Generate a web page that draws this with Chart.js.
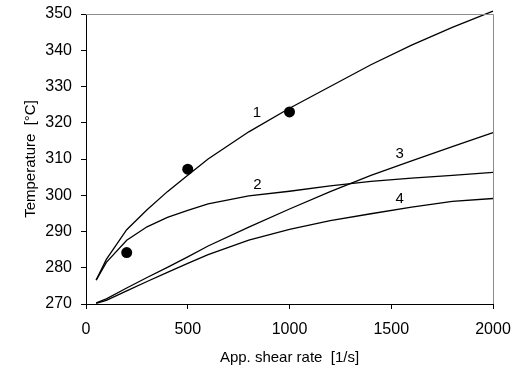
<!DOCTYPE html>
<html>
<head>
<meta charset="utf-8">
<script src="https://cdn.jsdelivr.net/npm/chart.js@4.4.0/dist/chart.umd.min.js"></script>
<style>
  html, body { margin: 0; padding: 0; background: #fff; }
  #wrap { width: 515px; height: 372px; }
</style>
</head>
<body>
<div id="wrap"><canvas id="chart" width="515" height="372"></canvas></div>
<script>
// shear rates where the curves were read
const shearRates = [50, 100, 200, 300, 400, 500, 600, 800, 1000, 1200, 1400, 1600, 1800, 2000]

const curve1 = [276.6, 282.3, 290.5, 296, 301, 305.5, 310, 317.5, 324, 330, 336, 341.4, 346.3, 350.8]
const curve2 = [276.6, 281.5, 287.6, 291.3, 293.9, 295.8, 297.6, 299.8, 301.1, 302.6, 303.8, 304.7, 305.5, 306.3]
const curve3 = [270.3, 271.4, 274.4, 277.3, 280.1, 283, 286, 291.2, 296.2, 301, 305.5, 309.5, 313.4, 317.3]
const curve4 = [270.2, 271, 273.6, 276.2, 278.7, 281.2, 283.6, 287.6, 290.6, 293, 294.9, 296.7, 298.3, 299.1]

// measured points
const measRates = [200, 500, 1000]
const measTemps = [284.2, 307.2, 323]

// curve numbers and where they sit
const curveNames = ['1', '2', '3', '4']
const nameX = [840, 842, 1541, 1541]
const nameY = [322.7, 302.8, 311.4, 298.9]

const xTicks = [0, 500, 1000, 1500, 2000]

const font = 'Liberation Sans, Arial, sans-serif'

const toPoints = (xs, ys) => xs.map((x, i) => ({ x: x, y: ys[i] }))

const lineSet = (values) => ({
  data: toPoints(shearRates, values),
  showLine: true,
  borderColor: '#000',
  borderWidth: 1.3,
  pointRadius: 0,
  tension: 0,
  fill: false,
  clip: false
})

const boxAndNames = {
  id: 'boxAndNames',
  afterDraw(chart) {
    const c = chart.ctx
    const a = chart.chartArea
    const xs = chart.scales.x
    const ys = chart.scales.y
    c.save()
    c.strokeStyle = '#8c8c8c'
    c.lineWidth = 1
    c.beginPath()
    c.moveTo(a.left, a.top + 0.5)
    c.lineTo(a.right + 0.5, a.top + 0.5)
    c.lineTo(a.right + 0.5, a.bottom)
    c.stroke()
    c.fillStyle = '#000'
    c.font = '15px ' + font
    c.textAlign = 'center'
    c.textBaseline = 'middle'
    for (let i = 0; i < curveNames.length; i++) {
      c.fillText(curveNames[i], xs.getPixelForValue(nameX[i]), ys.getPixelForValue(nameY[i]))
    }
    c.restore()
  }
}

var ctx = document.getElementById('chart').getContext('2d')

var myChart = new Chart(ctx, {
  type: 'scatter',
  data: {
    datasets: [
      lineSet(curve1),
      lineSet(curve2),
      lineSet(curve3),
      lineSet(curve4),
      {
        data: toPoints(measRates, measTemps),
        showLine: false,
        pointRadius: 5.5,
        pointBackgroundColor: '#000',
        pointBorderColor: '#000',
        pointBorderWidth: 0
      }
    ]
  },
  options: {
    responsive: false,
    animation: false,
    layout: { padding: { top: 14, right: 22, left: 0, bottom: 0 } },
    plugins: {
      legend: { display: false },
      tooltip: { enabled: false }
    },
    scales: {
      x: {
        type: 'linear',
        min: 0,
        max: 2000,
        afterFit: (s) => {
          s.height = 68
          s.paddingLeft = 0
          s.paddingRight = 0
        },
        afterBuildTicks: (s) => { s.ticks = xTicks.map(v => ({ value: v })) },
        border: { color: '#000', width: 1 },
        grid: { drawOnChartArea: false, drawTicks: true, tickLength: 5, color: '#000' },
        ticks: {
          color: '#000',
          font: { family: font, size: 16 },
          padding: 11,
          maxRotation: 0,
          callback: (v) => String(v)
        },
        title: {
          display: true,
          text: 'App. shear rate  [1/s]',
          color: '#000',
          font: { family: font, size: 15 },
          padding: { top: 0, bottom: 5 }
        }
      },
      y: {
        min: 270,
        max: 350,
        afterFit: (s) => {
          s.width = 86
          s.paddingTop = 0
          s.paddingBottom = 0
        },
        border: { color: '#000', width: 1 },
        grid: { drawOnChartArea: false, drawTicks: true, tickLength: 5, color: '#000' },
        ticks: {
          stepSize: 10,
          color: '#000',
          font: { family: font, size: 16 },
          padding: 9,
          callback: (v) => String(v)
        },
        title: {
          display: true,
          text: 'Temperature  [°C]',
          color: '#000',
          font: { family: font, size: 15 },
          padding: { top: 22, bottom: 0 }
        }
      }
    }
  },
  plugins: [boxAndNames]
})
</script>
</body>
</html>
